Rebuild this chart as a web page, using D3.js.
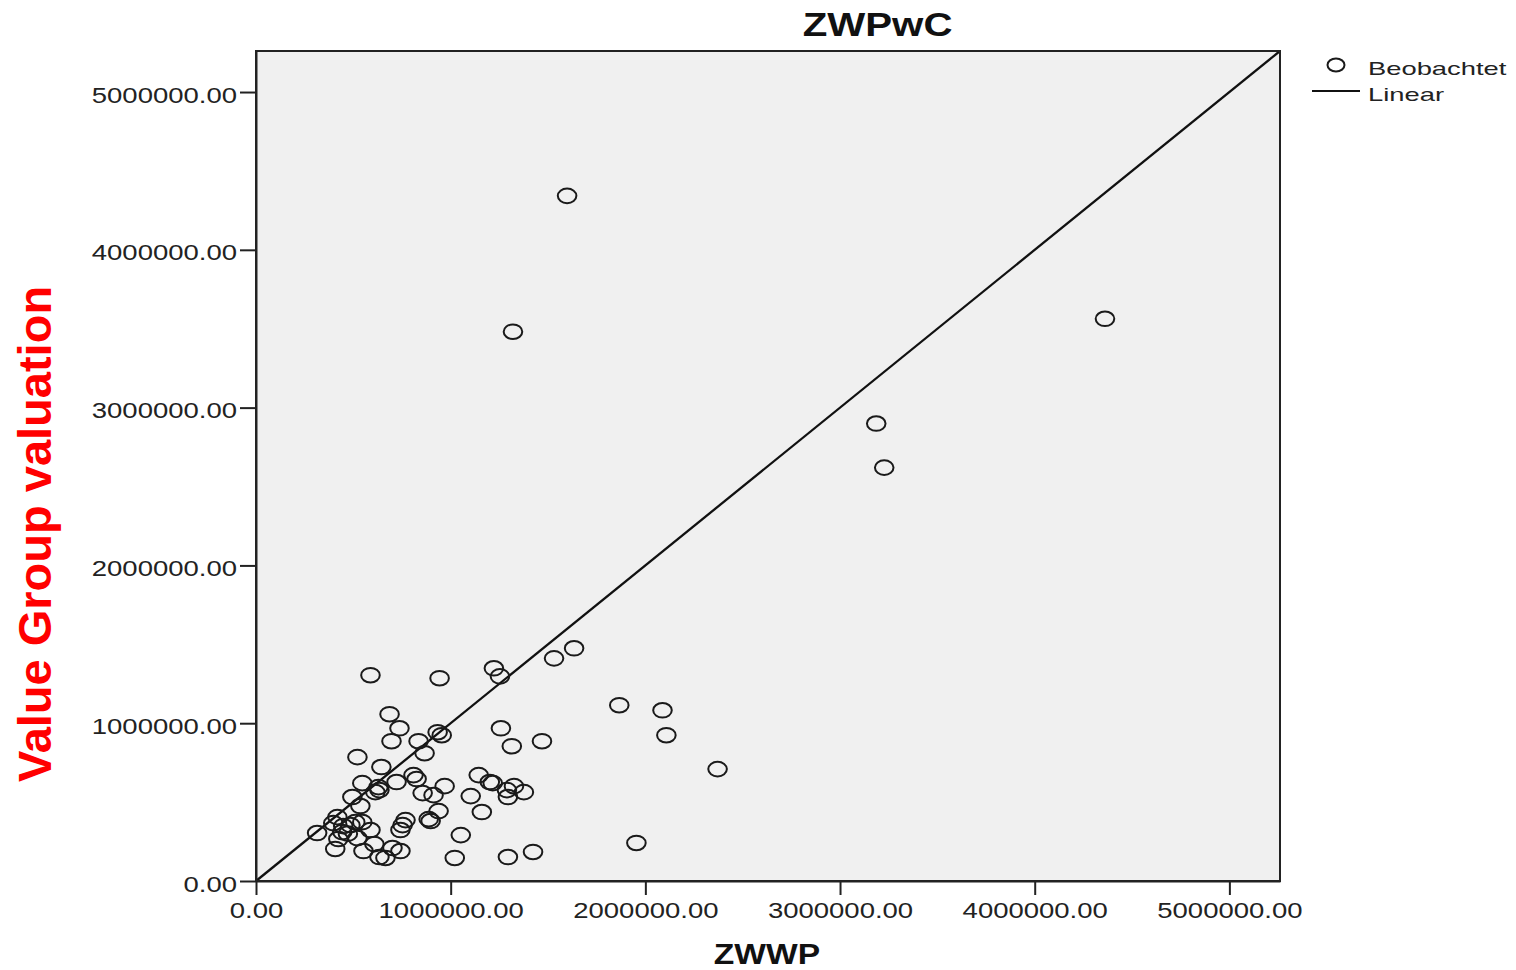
<!DOCTYPE html>
<html>
<head>
<meta charset="utf-8">
<script src="https://cdnjs.cloudflare.com/ajax/libs/d3/7.8.5/d3.min.js"></script>
<style>
  body { margin: 0; background: #fff; }
  text { font-family: "Liberation Sans", Arial, sans-serif; }
</style>
</head>
<body>
<div id="chart"></div>
<script>
// Daten
const title = "ZWPwC";
const xLabel = "ZWWP";
const yLabel = "Value Group valuation";
const legendLabels = ["Beobachtet", "Linear"];
const axisTicks = [0, 1000000, 2000000, 3000000, 4000000, 5000000];
const axisMax = 5260000;

const zwwp = [
  1598000, 1320000, 4361000, 3186000, 3227000, 1634000, 1531000, 1222000, 1253000, 588000,
  943000, 1866000, 2088000, 2108000, 2371000, 1954000, 1469000, 1258000, 1314000, 1423000,
  1294000, 1021000, 1052000, 1160000, 1103000, 1144000, 1201000, 1216000, 1325000, 1289000,
  1376000, 1294000, 969000, 912000, 856000, 938000, 887000, 897000, 933000, 954000,
  835000, 866000, 809000, 825000, 686000, 737000, 696000, 521000, 644000, 546000,
  722000, 629000, 634000, 613000, 495000, 536000, 418000, 397000, 510000, 546000,
  485000, 588000, 314000, 443000, 423000, 521000, 768000, 753000, 742000, 407000,
  552000, 608000, 634000, 665000, 701000, 742000, 448000, 472000
];
const zwpwc = [
  4342000, 3481000, 3563000, 2899000, 2620000, 1475000, 1411000, 1348000, 1297000, 1304000,
  1285000, 1114000, 1082000, 924000, 709000, 241000, 886000, 968000, 854000, 184000,
  152000, 146000, 291000, 437000, 538000, 671000, 627000, 620000, 601000, 576000,
  563000, 532000, 601000, 544000, 557000, 443000, 392000, 380000, 943000, 924000,
  886000, 810000, 671000, 646000, 1057000, 968000, 886000, 785000, 722000, 620000,
  627000, 595000, 576000, 563000, 532000, 475000, 405000, 367000, 373000, 373000,
  354000, 323000, 304000, 310000, 266000, 272000, 386000, 354000, 323000, 203000,
  190000, 234000, 152000, 146000, 209000, 190000, 348000, 300000
];

const W = 1516, H = 970;
const margin = { top: 51, right: 236, bottom: 89, left: 256 };
const width = W - margin.left - margin.right;
const height = H - margin.top - margin.bottom;

const svg = d3.select("#chart")
    .append("svg")
    .attr("width", W)
    .attr("height", H);

const g = svg.append("g")
    .attr("transform", `translate(${margin.left},${margin.top})`);

const x = d3.scaleLinear().domain([0, axisMax]).range([0, width]);
const y = d3.scaleLinear().domain([0, axisMax]).range([height, 0]);

// Hintergrund
g.append("rect")
    .attr("width", width)
    .attr("height", height)
    .attr("fill", "#f0f0f0");

// Linear (y = x)
g.append("line")
    .attr("x1", x(0)).attr("y1", y(0))
    .attr("x2", x(axisMax)).attr("y2", y(axisMax))
    .attr("stroke", "#111")
    .attr("stroke-width", 2.3);

// Punkte
const points = zwwp.map((v, i) => ({ x: v, y: zwpwc[i] }));
g.selectAll(".pt")
    .data(points)
    .enter()
    .append("ellipse")
    .attr("class", "pt")
    .attr("cx", d => x(d.x))
    .attr("cy", d => y(d.y))
    .attr("rx", 9.3)
    .attr("ry", 7.3)
    .attr("fill", "none")
    .attr("stroke", "#1a1a1a")
    .attr("stroke-width", 2);

// Rahmen
g.append("rect")
    .attr("width", width)
    .attr("height", height)
    .attr("fill", "none")
    .attr("stroke", "#222")
    .attr("stroke-width", 2);

const fmt = d => d.toFixed(2);

// Achse X
const xAxis = g.append("g")
    .attr("transform", `translate(0,${height})`)
    .call(d3.axisBottom(x).tickValues(axisTicks).tickFormat(fmt).tickSize(14).tickSizeOuter(0));
xAxis.select(".domain").attr("stroke", "#222").attr("stroke-width", 2);
xAxis.selectAll(".tick line").attr("stroke", "#222").attr("stroke-width", 2);
xAxis.selectAll("text")
    .attr("y", null).attr("dy", null)
    .attr("transform", "translate(0,37) scale(1.25,1)")
    .attr("text-anchor", "middle")
    .attr("fill", "#222")
    .style("font-size", "22px");

// Achse Y
const yAxis = g.append("g")
    .call(d3.axisLeft(y).tickValues(axisTicks).tickFormat(fmt).tickSize(16).tickSizeOuter(0));
yAxis.select(".domain").attr("stroke", "#222").attr("stroke-width", 2);
yAxis.selectAll(".tick line").attr("stroke", "#222").attr("stroke-width", 2);
yAxis.selectAll("text")
    .attr("x", null).attr("dy", null)
    .attr("transform", "translate(-19,10) scale(1.25,1)")
    .attr("text-anchor", "end")
    .attr("fill", "#222")
    .style("font-size", "22px");

// Titel
svg.append("text")
    .attr("transform", `translate(${margin.left + width * 0.607},36) scale(1.22,1)`)
    .attr("text-anchor", "middle")
    .style("font-size", "33px")
    .style("font-weight", "bold")
    .attr("fill", "#111")
    .text(title);

// X-Beschriftung
svg.append("text")
    .attr("transform", `translate(767,964) scale(1.12,1)`)
    .attr("text-anchor", "middle")
    .style("font-size", "30px")
    .style("font-weight", "bold")
    .attr("fill", "#111")
    .text(xLabel);

// Y-Beschriftung
svg.append("text")
    .attr("transform", "translate(51,534) rotate(-90)")
    .attr("text-anchor", "middle")
    .style("font-size", "47px")
    .style("font-weight", "bold")
    .attr("fill", "#ff0000")
    .text(yLabel);

// Legende
const legend = svg.append("g");
legend.append("ellipse")
    .attr("cx", 1336).attr("cy", 65)
    .attr("rx", 8.5).attr("ry", 6.5)
    .attr("fill", "none")
    .attr("stroke", "#1a1a1a")
    .attr("stroke-width", 2);
legend.append("line")
    .attr("x1", 1312).attr("x2", 1360)
    .attr("y1", 91).attr("y2", 91)
    .attr("stroke", "#111")
    .attr("stroke-width", 2);
legend.selectAll(".lg")
    .data(legendLabels)
    .enter()
    .append("text")
    .attr("class", "lg")
    .attr("transform", (d, i) => `translate(1368,${75 + i * 26}) scale(1.52,1)`)
    .style("font-size", "18px")
    .attr("fill", "#222")
    .text(d => d);
</script>
</body>
</html>
